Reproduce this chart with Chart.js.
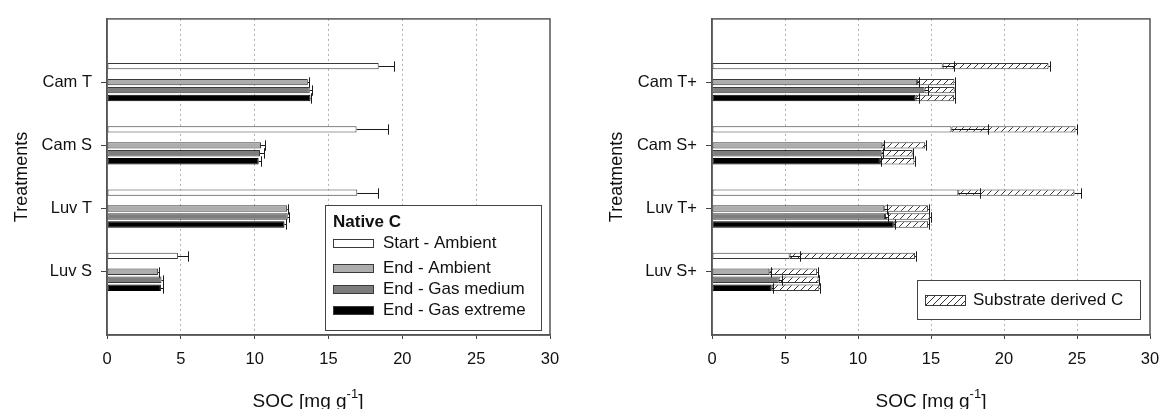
<!DOCTYPE html>
<html>
<head>
<meta charset="utf-8">
<script src="https://cdn.jsdelivr.net/npm/chart.js@4.4.1/dist/chart.umd.min.js"></script>
<style>
  html, body { margin: 0; padding: 0; background: #fff; overflow: hidden; }
  #wrap { position: relative; width: 1161px; height: 409px; }
  canvas { position: absolute; top: 0; }
  #left { left: 0; }
  #right { left: 580px; }
</style>
</head>
<body>
<div id="wrap">
  <canvas id="left" width="580" height="409"></canvas>
  <canvas id="right" width="581" height="409"></canvas>
</div>
<script>
// treatments and series
const treatmentsLeft = ['Cam T', 'Cam S', 'Luv T', 'Luv S'];
const treatmentsRight = ['Cam T+', 'Cam S+', 'Luv T+', 'Luv S+'];
const seriesNames = ['Start - Ambient', 'End - Ambient', 'End - Gas medium', 'End - Gas extreme'];
const socTicks = [0, 5, 10, 15, 20, 25, 30];

// left panel: native C [mg g-1] + error
const startAmbient = [18.4, 16.9, 16.95, 4.8];
const startAmbientErr = [1.05, 2.1, 1.43, 0.68];
const endAmbient = [13.6, 10.43, 12.2, 3.46];
const endAmbientErr = [0.08, 0.25, 0.06, 0.09];
const endGasMedium = [13.73, 10.36, 12.24, 3.69];
const endGasMediumErr = [0.15, 0.25, 0.11, 0.07];
const endGasExtreme = [13.78, 10.27, 12.02, 3.65];
const endGasExtremeErr = [0.05, 0.13, 0.08, 0.13];

// right panel: native C + error
const startAmbientPlus = [15.8, 16.4, 16.87, 5.32];
const startAmbientPlusErr = [0.75, 2.5, 1.5, 0.7];
const endAmbientPlus = [14.05, 11.67, 11.8, 3.93];
const endAmbientPlusErr = [0.1, 0.13, 0.16, 0.12];
const endGasMediumPlus = [14.55, 11.6, 11.85, 4.57];
const endGasMediumPlusErr = [0.27, 0.1, 0.23, 0.2];
const endGasExtremePlus = [13.95, 11.5, 12.45, 4.09];
const endGasExtremePlusErr = [0.2, 0.1, 0.1, 0.1];

// right panel: substrate derived C (stacked on native) + error
const subStart = [7.25, 8.5, 7.96, 8.58];
const subStartErr = [0.12, 0.12, 0.42, 0.08];
const subEndAmbient = [2.55, 2.93, 3.0, 3.27];
const subEndAmbientErr = [0.05, 0.07, 0.05, 0.05];
const subEndGasMedium = [2.07, 2.14, 3.08, 2.73];
const subEndGasMediumErr = [0.05, 0.05, 0.05, 0.05];
const subEndGasExtreme = [2.62, 2.36, 2.35, 3.26];
const subEndGasExtremeErr = [0.05, 0.05, 0.05, 0.05];

const fills = ['#ffffff', '#adadad', '#7d7d7d', '#000000'];
const FONT = '"Liberation Sans", Arial, sans-serif';
Chart.defaults.font.family = FONT;
Chart.defaults.color = '#111';

// empty category at both ends so the 4 groups sit on 1..4 of a 0..5 axis
const pad = arr => [null, ...arr, null];
const padLabels = arr => ['', ...arr, ''];

function hatchPattern(ctx) {
  const s = 7;
  const c = document.createElement('canvas');
  c.width = s; c.height = s;
  const g = c.getContext('2d');
  g.fillStyle = '#fff';
  g.fillRect(0, 0, s, s);
  g.strokeStyle = '#333';
  g.lineWidth = 1;
  g.beginPath();
  g.moveTo(0, s); g.lineTo(s, 0);
  g.moveTo(-1, 1); g.lineTo(1, -1);
  g.moveTo(s - 1, s + 1); g.lineTo(s + 1, s - 1);
  g.stroke();
  return ctx.createPattern(c, 'repeat');
}

// one-sided error bars at the end of each bar
const errorBars = {
  id: 'errorBars',
  afterDatasetsDraw(chart) {
    const ctx = chart.ctx;
    const xs = chart.scales.x;
    const unit = xs.getPixelForValue(1) - xs.getPixelForValue(0);
    ctx.save();
    ctx.strokeStyle = '#1a1a1a';
    ctx.lineWidth = 1;
    chart.data.datasets.forEach((ds, di) => {
      if (!ds.errors) return;
      chart.getDatasetMeta(di).data.forEach((bar, i) => {
        const err = ds.errors[i];
        if (err == null || ds.data[i] == null) return;
        const y = Math.round(bar.y) + 0.5;
        const x1 = Math.round(bar.x + err * unit) + 0.5;
        const h = bar.height / 2 + 2;
        ctx.beginPath();
        ctx.moveTo(bar.x, y); ctx.lineTo(x1, y);
        ctx.moveTo(x1, y - h); ctx.lineTo(x1, y + h);
        ctx.stroke();
      });
    });
    ctx.restore();
  }
};

// plot frame, axis titles and the boxed legend
const decor = {
  id: 'decor',
  afterDraw(chart, args, o) {
    const { ctx, chartArea: a } = chart;
    ctx.save();
    ctx.strokeStyle = '#555';
    ctx.lineWidth = 1.5;
    ctx.strokeRect(a.left, a.top, a.right - a.left, a.bottom - a.top);

    // y title
    ctx.fillStyle = '#111';
    ctx.font = '18px ' + FONT;
    ctx.textAlign = 'center';
    ctx.textBaseline = 'middle';
    ctx.save();
    ctx.translate(o.yTitleX, (a.top + a.bottom) / 2);
    ctx.rotate(-Math.PI / 2);
    ctx.fillText('Treatments', 0, 0);
    ctx.restore();

    // x title with superscript
    const main = 'SOC [mg g', sup = '-1', tail = ']';
    ctx.textAlign = 'left';
    ctx.textBaseline = 'alphabetic';
    ctx.font = '19px ' + FONT;
    const w1 = ctx.measureText(main).width, w3 = ctx.measureText(tail).width;
    ctx.font = '13px ' + FONT;
    const w2 = ctx.measureText(sup).width;
    const x = o.xTitleX - (w1 + w2 + w3) / 2;
    const base = 407;
    ctx.font = '19px ' + FONT;
    ctx.fillText(main, x, base);
    ctx.font = '13px ' + FONT;
    ctx.fillText(sup, x + w1, base - 9);
    ctx.font = '19px ' + FONT;
    ctx.fillText(tail, x + w1 + w2, base);

    // legend box
    const L = o.legend;
    const bx = a.right - L.right - L.width, by = a.bottom - L.bottom - L.height;
    ctx.fillStyle = '#fff';
    ctx.fillRect(bx, by, L.width, L.height);
    ctx.strokeStyle = '#444';
    ctx.lineWidth = 1;
    ctx.strokeRect(Math.round(bx) + 0.5, Math.round(by) + 0.5, L.width, L.height);
    ctx.textBaseline = 'middle';
    if (L.title) {
      ctx.fillStyle = '#111';
      ctx.font = 'bold 17px ' + FONT;
      ctx.fillText(L.title, bx + L.swatchX, by + L.titleY);
    }
    L.items.forEach((di, k) => {
      const ds = chart.data.datasets[di];
      const yy = by + L.rows[k];
      ctx.fillStyle = ds.backgroundColor;
      ctx.fillRect(bx + L.swatchX, yy - L.swatchH / 2, L.swatchW, L.swatchH);
      ctx.strokeStyle = '#3a3a3a';
      ctx.strokeRect(Math.round(bx + L.swatchX) + 0.5, Math.round(yy - L.swatchH / 2) + 0.5, L.swatchW, L.swatchH);
      ctx.fillStyle = '#111';
      ctx.font = '17px ' + FONT;
      ctx.fillText(ds.label, bx + L.textX, yy);
    });
    ctx.restore();
  }
};

function options(stacked, yWidth, padRight, yTitleX, xTitleX, legend) {
  return {
    indexAxis: 'y',
    responsive: false,
    animation: false,
    devicePixelRatio: 1,
    layout: { padding: { top: 17, right: padRight, left: 0, bottom: 0 } },
    datasets: {
      bar: {
        categoryPercentage: 0.63,
        barPercentage: 0.8,
        borderWidth: 1,
        borderColor: '#3a3a3a',
        borderSkipped: false
      }
    },
    scales: {
      x: {
        stacked: stacked,
        min: socTicks[0],
        max: socTicks[socTicks.length - 1],
        ticks: { stepSize: socTicks[1] - socTicks[0], font: { size: 16.5 }, color: '#111', padding: 11 },
        grid: {
          color: c => (c.tick && (c.tick.value === socTicks[0] || c.tick.value === socTicks[socTicks.length - 1])) ? 'transparent' : '#b0b0b0',
          tickColor: '#444',
          tickLength: 4
        },
        border: { color: '#555', width: 1.5, dash: [2, 3] },
        // fixed axis height, and no extra room for the end labels
        afterFit: s => { s.height = 74; s.paddingLeft = 0; s.paddingRight = 0; }
      },
      y: {
        stacked: stacked,
        offset: false,
        ticks: { font: { size: 16.5 }, color: '#111', padding: 9 },
        grid: {
          offset: false,
          drawOnChartArea: false,
          tickLength: 6,
          tickColor: c => (c.tick && c.tick.label) ? '#444' : 'transparent'
        },
        border: { color: '#555', width: 1.5 },
        afterFit: s => { s.width = yWidth; }
      }
    },
    plugins: {
      legend: { display: false },
      tooltip: { enabled: false },
      decor: { yTitleX: yTitleX, xTitleX: xTitleX, legend: legend }
    }
  };
}

// left panel: native C
const leftSeries = [startAmbient, endAmbient, endGasMedium, endGasExtreme];
const leftErrs = [startAmbientErr, endAmbientErr, endGasMediumErr, endGasExtremeErr];
const leftSets = leftSeries.map((d, i) => ({
  label: seriesNames[i],
  data: pad(d),
  errors: pad(leftErrs[i]),
  backgroundColor: fills[i],
  borderColor: i === 3 ? '#000' : '#3a3a3a'
}));
// empty slot between start and end bars
leftSets.splice(1, 0, { label: '', data: pad([null, null, null, null]), backgroundColor: 'transparent' });

new Chart(document.getElementById('left'), {
  type: 'bar',
  data: { labels: padLabels(treatmentsLeft), datasets: leftSets },
  options: options(false, 107, 30, 22, 308, {
    right: 9, bottom: 5, width: 216, height: 125,
    title: 'Native C', titleY: 17,
    rows: [38, 63, 84, 105],
    swatchX: 8, swatchW: 40, swatchH: 8, textX: 58,
    items: [0, 2, 3, 4]
  }),
  plugins: [errorBars, decor]
});

// right panel: native + substrate derived C
const rightCtx = document.getElementById('right').getContext('2d');
const hatch = hatchPattern(rightCtx);
const nativePlus = [startAmbientPlus, endAmbientPlus, endGasMediumPlus, endGasExtremePlus];
const nativePlusErr = [startAmbientPlusErr, endAmbientPlusErr, endGasMediumPlusErr, endGasExtremePlusErr];
const subPlus = [subStart, subEndAmbient, subEndGasMedium, subEndGasExtreme];
const subPlusErr = [subStartErr, subEndAmbientErr, subEndGasMediumErr, subEndGasExtremeErr];

const rightSets = nativePlus.map((d, i) => ({
  label: seriesNames[i],
  data: pad(d),
  errors: pad(nativePlusErr[i]),
  stack: 's' + i,
  backgroundColor: fills[i],
  borderColor: i === 3 ? '#000' : '#3a3a3a'
}));
rightSets.splice(1, 0, { label: '', data: pad([null, null, null, null]), stack: 'gap', backgroundColor: 'transparent' });
subPlus.forEach((d, i) => rightSets.push({
  label: 'Substrate derived C',
  data: pad(d),
  errors: pad(subPlusErr[i]),
  stack: 's' + i,
  backgroundColor: hatch,
  borderColor: '#3a3a3a'
}));

new Chart(rightCtx, {
  type: 'bar',
  data: { labels: padLabels(treatmentsRight), datasets: rightSets },
  options: options(true, 132, 11, 37, 351, {
    right: 10, bottom: 16, width: 223, height: 39,
    titleY: 0,
    rows: [20],
    swatchX: 8, swatchW: 40, swatchH: 10, textX: 56,
    items: [5]
  }),
  plugins: [errorBars, decor]
});
</script>
</body>
</html>
